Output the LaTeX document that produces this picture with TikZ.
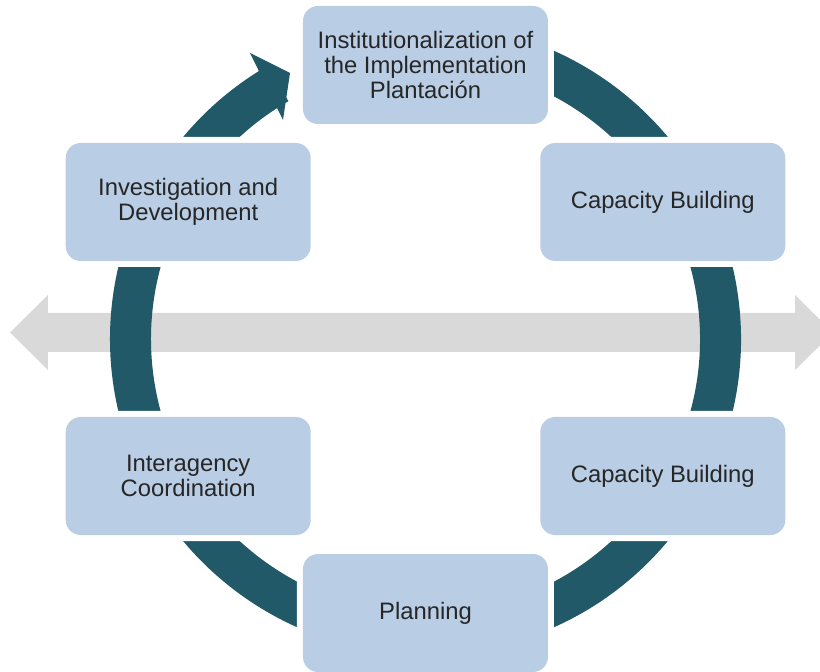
\documentclass[tikz,border=0pt]{standalone}
\usepackage{fontspec}
\setmainfont{Liberation Sans}
\definecolor{boxblue}{RGB}{185,205,229}
\definecolor{ringteal}{RGB}{33,89,104}
\definecolor{bandgray}{RGB}{217,217,217}
\definecolor{labelgray}{RGB}{38,38,38}

\begin{document}
\begin{tikzpicture}[x=1pt,y=1pt,
  stagebox/.style={fill=boxblue, rounded corners=15pt,
    minimum width=245pt, minimum height=118pt, inner sep=0pt,
    align=center, text=labelgray,
    font=\fontsize{23.8pt}{25pt}\selectfont,
    preaction={draw=white, line width=12pt}},
]
\useasboundingbox (-425.5,-333) rectangle (394.5,339);
\clip (-425.5,-333) rectangle (394.5,339);

% horizontal two-headed band
\fill[bandgray] (-415.5,6.5) -- (-377.5,44) -- (-377.5,26) -- (369.5,26)
  -- (369.5,44) -- (407.5,6.5) -- (369.5,-31) -- (369.5,-13)
  -- (-377.5,-13) -- (-377.5,-31) -- cycle;

% cycle ring with its arrowhead
\draw[ringteal, line width=41pt] (100:295) arc[start angle=100, end angle=-240, radius=295];
\fill[ringteal] (-175.5,286) -- (-135.5,266) -- (-142.5,219) -- cycle;

% stages
\node[stagebox] (inst) at (90:274) {Institutionalization of\\the Implementation\\Plantación};
\node[stagebox] (capA) at (30:274) {Capacity Building};
\node[stagebox] (capB) at (-30:274) {Capacity Building};
\node[stagebox] (plan) at (-90:274) {Planning};
\node[stagebox] (coord) at (-150:274) {Interagency\\Coordination};
\node[stagebox] (invest) at (150:274) {Investigation and\\Development};
\end{tikzpicture}
\end{document}
